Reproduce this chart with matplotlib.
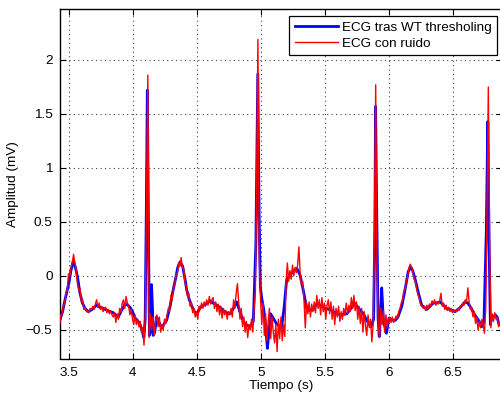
import numpy as np
import matplotlib
matplotlib.use("Agg")
import matplotlib.pyplot as plt

plt.rcParams['font.family'] = ['Liberation Sans', 'DejaVu Sans']
plt.rcParams['axes.unicode_minus'] = True

# Denoised ECG (wavelet thresholding): time (s) and amplitude (mV)
clean_t = [3.426, 3.45, 3.469, 3.50, 3.515, 3.534, 3.55, 3.565, 3.586, 3.605,
           3.625, 3.65, 3.68, 3.716, 3.74, 3.768, 3.80, 3.846, 3.885, 3.91,
           3.9375, 3.96, 3.977, 4.00, 4.016, 4.04, 4.055, 4.07, 4.085, 4.095,
           4.104, 4.112, 4.12, 4.128, 4.137, 4.145, 4.152, 4.158, 4.17, 4.185,
           4.20, 4.224, 4.245, 4.263, 4.29, 4.31, 4.328, 4.35, 4.367, 4.388,
           4.405, 4.42, 4.44, 4.459, 4.48, 4.498, 4.52, 4.537, 4.57, 4.60,
           4.625, 4.654, 4.68, 4.705, 4.73, 4.758, 4.785, 4.81, 4.835, 4.862,
           4.88, 4.914, 4.94, 4.96, 4.975, 4.985, 4.995, 5.005, 5.02, 5.035,
           5.05, 5.06, 5.075, 5.09, 5.12, 5.16, 5.18, 5.20, 5.24, 5.28,
           5.305, 5.33, 5.357, 5.38, 5.41, 5.44, 5.46, 5.50, 5.54, 5.58,
           5.62, 5.67, 5.71, 5.73, 5.77, 5.80, 5.826, 5.86, 5.88, 5.89,
           5.895, 5.905, 5.915, 5.924, 5.935, 5.943, 5.956, 5.98, 6.00, 6.03,
           6.05, 6.07, 6.10, 6.125, 6.15, 6.17, 6.185, 6.20, 6.23, 6.255,
           6.295, 6.32, 6.346, 6.37, 6.40, 6.425, 6.45, 6.477, 6.516, 6.55,
           6.594, 6.615, 6.633, 6.67, 6.705, 6.724, 6.742, 6.76, 6.772, 6.782,
           6.792, 6.80, 6.83, 6.845, 6.857, 6.876]
clean_v = [-0.42, -0.33, -0.22, -0.06, 0.05, 0.14, 0.08, 0.00, -0.16, -0.25,
           -0.30, -0.33, -0.31, -0.27, -0.29, -0.30, -0.32, -0.34, -0.38, -0.32,
           -0.26, -0.27, -0.29, -0.34, -0.39, -0.42, -0.45, -0.50, -0.57, -0.40,
           0.60, 1.72, 0.60, -0.55, -0.52, -0.08, -0.30, -0.55, -0.52, -0.38,
           -0.42, -0.48, -0.44, -0.41, -0.28, -0.15, -0.05, 0.08, 0.13, 0.09,
           -0.02, -0.13, -0.22, -0.28, -0.33, -0.36, -0.30, -0.28, -0.26, -0.23,
           -0.25, -0.27, -0.29, -0.32, -0.34, -0.35, -0.30, -0.24, -0.33, -0.42,
           -0.45, -0.47, -0.42, 0.30, 1.87, 0.60, -0.10, -0.20, -0.30, -0.45,
           -0.67, -0.55, -0.35, -0.38, -0.44, -0.48, -0.30, -0.04, 0.03, 0.07,
           0.01, -0.13, -0.30, -0.32, -0.31, -0.25, -0.27, -0.30, -0.31, -0.34,
           -0.36, -0.35, -0.29, -0.25, -0.31, -0.35, -0.41, -0.47, -0.40, 0.50,
           1.57, 0.50, -0.40, -0.56, -0.35, -0.11, -0.41, -0.53, -0.39, -0.41,
           -0.41, -0.38, -0.28, -0.13, 0.04, 0.086, 0.05, -0.01, -0.16, -0.27,
           -0.31, -0.28, -0.25, -0.25, -0.24, -0.27, -0.30, -0.31, -0.33, -0.30,
           -0.24, -0.25, -0.28, -0.36, -0.42, -0.47, -0.42, 0.40, 1.43, 0.30,
           -0.45, -0.40, -0.36, -0.38, -0.44, -0.45]

# Noisy ECG sampled every 10 ms starting at 3.426 s (mV)
noisy_start = 3.426
noisy_step = 0.01
noisy_v = [
    -0.45, -0.36, -0.35, -0.27, -0.26, -0.15, -0.14, 0.02, 0.00, 0.08,
    0.13, 0.20, 0.12, 0.05, -0.07, -0.13, -0.12, -0.24, -0.22, -0.31,
    -0.29, -0.33, -0.32, -0.34, -0.30, -0.31, -0.28, -0.31, -0.26, -0.22,
    -0.29, -0.25, -0.31, -0.28, -0.33, -0.30, -0.29, -0.34, -0.31, -0.35,
    -0.32, -0.36, -0.38, -0.34, -0.43, -0.35, -0.40, -0.30, -0.34, -0.25,
    -0.22, -0.30, -0.19, -0.25, -0.28, -0.36, -0.31, -0.40, -0.45, -0.36,
    -0.45, -0.40, -0.47, -0.42, -0.52, -0.48, -0.64, -0.35, 0.75, 1.86,
    -0.57, -0.35, -0.50, -0.38, -0.55, -0.42, -0.36, -0.47, -0.38, -0.52,
    -0.45, -0.50, -0.40, -0.44, -0.36, -0.30, -0.33, -0.18, -0.22, -0.10,
    -0.08, 0.02, 0.01, 0.12, 0.09, 0.17, 0.08, 0.07, -0.06, -0.09,
    -0.19, -0.16, -0.28, -0.24, -0.34, -0.30, -0.38, -0.33, -0.40, -0.28,
    -0.31, -0.25, -0.30, -0.24, -0.28, -0.22, -0.27, -0.19, -0.26, -0.22,
    -0.20, -0.30, -0.24, -0.33, -0.26, -0.36, -0.28, -0.39, -0.30, -0.36,
    -0.32, -0.40, -0.33, -0.36, -0.30, -0.38, -0.22, -0.30, -0.16, -0.07,
    -0.25, -0.40, -0.30, -0.47, -0.38, -0.52, -0.42, -0.57, -0.45, -0.50,
    -0.40, -0.52, -0.30, -0.15, 0.90, 2.19, 0.20, -0.20, -0.45, -0.25,
    -0.55, -0.35, -0.60, -0.42, -0.30, -0.58, -0.38, -0.52, -0.62, -0.45,
    -0.70, -0.40, -0.58, -0.38, -0.60, -0.45, -0.56, -0.05, 0.12, -0.05,
    0.05, -0.03, 0.10, 0.00, 0.08, 0.03, 0.10, 0.27, 0.02, -0.08,
    -0.05, -0.22, -0.48, -0.25, -0.35, -0.24, -0.38, -0.26, -0.33, -0.24,
    -0.34, -0.18, -0.30, -0.22, -0.36, -0.20, -0.33, -0.25, -0.40, -0.27,
    -0.22, -0.35, -0.24, -0.40, -0.28, -0.45, -0.30, -0.38, -0.28, -0.42,
    -0.33, -0.40, -0.30, -0.36, -0.25, -0.35, -0.27, -0.33, -0.20, -0.30,
    -0.18, -0.32, -0.24, -0.40, -0.28, -0.44, -0.30, -0.52, -0.33, -0.46,
    -0.55, -0.36, -0.48, -0.40, -0.61, -0.45, 0.40, 1.77, 0.10, -0.45,
    -0.57, -0.30, -0.45, -0.32, -0.52, -0.36, -0.48, -0.40, -0.38, -0.43,
    -0.38, -0.43, -0.40, -0.37, -0.40, -0.33, -0.30, -0.25, -0.22, -0.14,
    -0.12, -0.05, 0.00, 0.08, 0.11, 0.08, 0.05, -0.03, -0.05, -0.12,
    -0.17, -0.20, -0.26, -0.27, -0.30, -0.28, -0.32, -0.27, -0.30, -0.26,
    -0.28, -0.23, -0.26, -0.22, -0.27, -0.24, -0.26, -0.23, -0.16, -0.28,
    -0.25, -0.31, -0.27, -0.32, -0.29, -0.33, -0.30, -0.34, -0.31, -0.33,
    -0.33, -0.30, -0.32, -0.28, -0.29, -0.25, -0.27, -0.22, -0.24, -0.11,
    -0.24, -0.31, -0.29, -0.38, -0.33, -0.44, -0.38, -0.50, -0.42, -0.48,
    -0.40, -0.46, -0.53, -0.30, 0.60, 1.75, 0.30, -0.48, -0.35, -0.42,
    -0.34, -0.40, -0.38, -0.47, -0.43, -0.50,
]
noisy_t = noisy_start + noisy_step * np.arange(len(noisy_v))

x_ticks = [3.5, 4, 4.5, 5, 5.5, 6, 6.5]
x_labels = ['3.5', '4', '4.5', '5', '5.5', '6', '6.5']
y_ticks = [-0.5, 0, 0.5, 1, 1.5, 2]
y_labels = ['\u22120.5', '0', '0.5', '1', '1.5', '2']

FS = 9.7
W, H = 500, 396
fig = plt.figure(figsize=(W / 100, H / 100), dpi=100)
left, right, top, bottom = 59.5, 502.0, 9.0, 358.5
ax = fig.add_axes([left / W, 1 - bottom / H, (right - left) / W, (bottom - top) / H])

ax.plot(clean_t, clean_v, color='#0000ff', lw=2.0, label='ECG tras WT thresholing', zorder=3)
ax.plot(noisy_t, noisy_v, color='#ff0000', lw=1.0, label='ECG con ruido', zorder=4)

ax.set_xlim(3.4258, 3.5 + (right - 69) / 128)
ax.set_ylim(-0.764, 2.472)
ax.set_xticks(x_ticks)
ax.set_xticklabels(x_labels)
ax.set_yticks(y_ticks)
ax.set_yticklabels(y_labels)
ax.tick_params(direction='in', length=4, width=0.8, top=True, right=True,
               labelsize=FS, colors='black')
ax.tick_params(axis='x', pad=6)
ax.tick_params(axis='y', pad=5)
ax.grid(True, linestyle=(0, (1, 3)), color='#444444', linewidth=0.8)
for s in ax.spines.values():
    s.set_linewidth(1.0)
    s.set_color('black')

ax.set_xlabel('Tiempo (s)', fontsize=FS, labelpad=1)
ax.set_ylabel('Amplitud (mV)', fontsize=FS, labelpad=5)

leg = ax.legend(loc='upper right', bbox_to_anchor=(496.7 / W, 1 - 16 / H),
                bbox_transform=fig.transFigure, borderaxespad=0,
                fancybox=False, framealpha=1, edgecolor='black',
                fontsize=FS, handlelength=3.2, handletextpad=0.28,
                labelspacing=0.28, borderpad=0.4)
leg.get_frame().set_linewidth(0.9)

fig.savefig('out.png', dpi=100)
